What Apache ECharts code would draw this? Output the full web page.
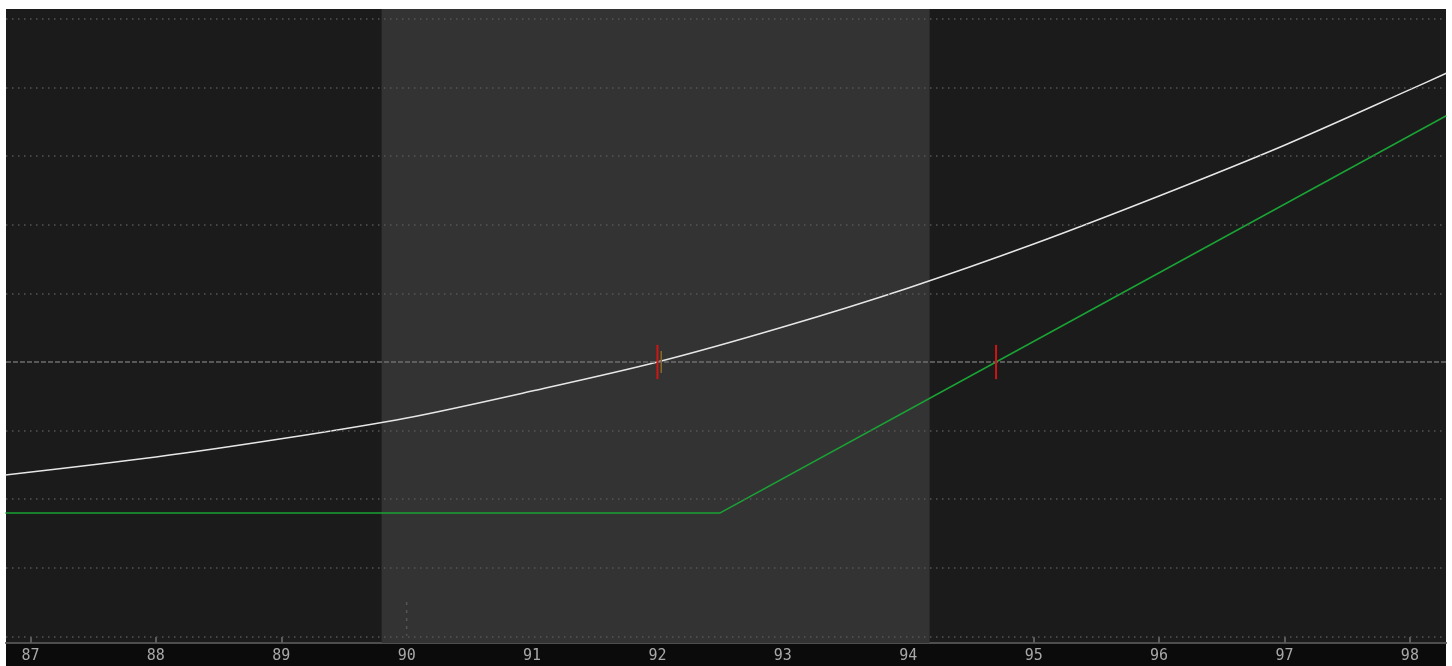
<!DOCTYPE html>
<html>
<head>
<meta charset="utf-8">
<script src="https://cdn.jsdelivr.net/npm/echarts@6/dist/echarts.min.js"></script>
<style>html,body{margin:0;padding:0;background:#fff;}#c{width:1452px;height:666px;}</style>
</head>
<body>
<div id="c"></div>
<script>
// ---- data ----
const xTicks = [87, 88, 89, 90, 91, 92, 93, 94, 95, 96, 97, 98];
const gridLevels = [-4, -3, -2, -1, 1, 2, 3, 4, 5];
const zeroLevel = 0;
const shadedRange = [89.8, 94.17];
const todayX = [86.8, 88, 89, 90, 91, 92, 93, 94, 95, 96, 97, 98, 98.29];
const todayY = [-1.647, -1.385, -1.12, -0.816, -0.423, 0.0, 0.51, 1.08, 1.72, 2.42, 3.16, 3.97, 4.21];
const expiryX = [86.8, 92.5, 94.7, 98.29];
const expiryY = [-2.2, -2.2, 0.0, 3.59];
const markerRed1 = [[92, -0.25], [92, 0.25]];
const markerGold = [[92.03, -0.16], [92.03, 0.16]];
const markerRed2 = [[94.7, -0.25], [94.7, 0.25]];
const tick90 = [[90, -3.5], [90, -3.99]];

const chart = echarts.init(document.getElementById('c'));
const zip = (a, b) => a.map((v, i) => [v, b[i]]);

const option = {
  backgroundColor: '#ffffff',
  animation: false,
  grid: { left: 6, right: 6, top: 9, bottom: 23, show: true, backgroundColor: '#1b1b1b', borderWidth: 0 },
  graphic: [{
    type: 'rect', left: 6, top: 644, shape: { width: 1440, height: 22 },
    style: { fill: '#0b0b0b' }, z: -1
  }],
  xAxis: {
    type: 'value', min: 86.805, max: 98.288,
    axisLine: { show: true, onZero: false, lineStyle: { color: '#4e4e4e', width: 2 } },
    axisTick: { show: true, inside: true, length: 6, lineStyle: { color: '#5a5a5a', width: 2 }, customValues: xTicks },
    axisLabel: { show: true, customValues: xTicks, color: '#a8a8a8', fontFamily: 'DejaVu Sans Mono', fontSize: 15, margin: 6 },
    splitLine: { show: false }
  },
  yAxis: {
    type: 'value', min: -4.096, max: 5.146,
    show: false, splitLine: { show: false }
  },
  series: [
    {
      type: 'line', data: [], silent: true,
      markArea: { silent: true, itemStyle: { color: '#333333' }, data: [[{ xAxis: shadedRange[0] }, { xAxis: shadedRange[1] }]] },
      markLine: {
        silent: true, symbol: 'none', label: { show: false },
        lineStyle: { color: '#555555', type: [1.5, 4.5], width: 1.5 },
        data: gridLevels.map(v => ({ yAxis: v }))
      }
    },
    {
      type: 'line', data: [], silent: true,
      markLine: {
        silent: true, symbol: 'none', label: { show: false },
        lineStyle: { color: '#6e6e6e', type: [5, 2], width: 1.5 },
        data: [{ yAxis: zeroLevel }]
      }
    },
    {
      type: 'line', data: tick90, symbol: 'none', silent: true,
      lineStyle: { color: '#555555', width: 1.5, type: [3, 5] }
    },
    {
      type: 'line', data: zip(expiryX, expiryY), symbol: 'none', silent: true,
      lineStyle: { color: '#1aa335', width: 1.5 }, z: 3
    },
    {
      type: 'line', data: zip(todayX, todayY), symbol: 'none', silent: true, smooth: 0.3,
      lineStyle: { color: '#e6e6e6', width: 1.5 }, z: 3
    },
    {
      type: 'line', data: markerGold, symbol: 'none', silent: true,
      lineStyle: { color: '#8a6a22', width: 1.5 }, z: 4
    },
    {
      type: 'line', data: markerRed1, symbol: 'none', silent: true,
      lineStyle: { color: '#d01515', width: 2 }, z: 5
    },
    {
      type: 'line', data: markerRed2, symbol: 'none', silent: true,
      lineStyle: { color: '#d01515', width: 2 }, z: 5
    }
  ]
};
chart.setOption(option);
</script>
</body>
</html>
